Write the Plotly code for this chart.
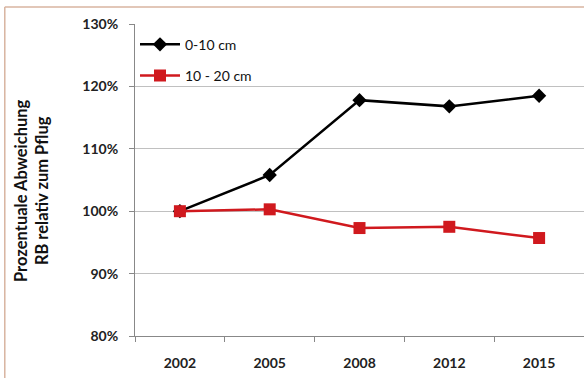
import plotly.graph_objects as go

years = ["2002", "2005", "2008", "2012", "2015"]
depth_0_10 = [100.0, 105.8, 117.8, 116.8, 118.5]
depth_10_20 = [100.0, 100.3, 97.3, 97.5, 95.7]
y_ticks = [80, 90, 100, 110, 120, 130]
y_labels = ["80%", "90%", "100%", "110%", "120%", "130%"]

fnt = "Lato"
fig = go.Figure()
fig.add_trace(go.Scatter(x=years, y=depth_0_10, mode="lines+markers", name="0-10 cm",
                         legendgroup="a",
                         line=dict(color="black", width=2.5),
                         marker=dict(symbol="diamond", size=11, color="black")))
fig.add_trace(go.Scatter(x=years, y=depth_10_20, mode="lines+markers", name="10 - 20 cm",
                         legendgroup="b",
                         line=dict(color="#d0191e", width=2.5),
                         marker=dict(symbol="square", size=12, color="#d0191e")))

fig.update_layout(
    width=584, height=378,
    margin=dict(l=135, r=0, t=24, b=42),
    paper_bgcolor="white", plot_bgcolor="white",
    font=dict(family=fnt, size=14, color="#222222"),
    showlegend=True,
    legend=dict(x=0.0, y=0.985, xanchor="left", yanchor="top", bgcolor="rgba(0,0,0,0)",
                font=dict(family=fnt, size=14, color="#111111"), tracegroupgap=10,
                traceorder="grouped", itemwidth=40),
    xaxis=dict(type="category", range=[-0.5, 4.5], showgrid=False, showline=True,
               linecolor="#888888", linewidth=1, ticks="outside", tickson="boundaries",
               tickcolor="#888888", ticklen=5, ticklabelstandoff=14,
               tickfont=dict(family=fnt, size=14, color="#222222", weight="bold")),
    yaxis=dict(range=[80, 130], tickvals=y_ticks, ticktext=y_labels, showgrid=True,
               gridcolor="#c0c0c0", gridwidth=1, showline=True, linecolor="#888888",
               ticks="outside", tickcolor="#888888", ticklen=5, zeroline=False,
               ticklabelstandoff=8,
               tickfont=dict(family=fnt, size=14, color="#222222", weight="bold")),
)
# y-axis title as annotation (positioned like the reference)
fig.add_annotation(text="Prozentuale Abweichung<br>RB relativ zum Pflug", textangle=-90,
                   xref="paper", yref="paper", x=(31 - 135) / 449, y=(336 - 191) / 312,
                   xanchor="center", yanchor="middle", showarrow=False,
                   font=dict(family=fnt, size=16.5, color="#111111", weight="bold"))
# frame border (top and left)
fig.add_shape(type="line", xref="paper", yref="paper", x0=-0.29, x1=1.01, y0=1.0545, y1=1.0545,
              line=dict(color="#d8b4a0", width=1.5))
fig.add_shape(type="line", xref="paper", yref="paper", x0=-0.29, x1=-0.29, y0=1.0545, y1=-0.2,
              line=dict(color="#d8b4a0", width=1.5))
fig.write_html("out.html")
